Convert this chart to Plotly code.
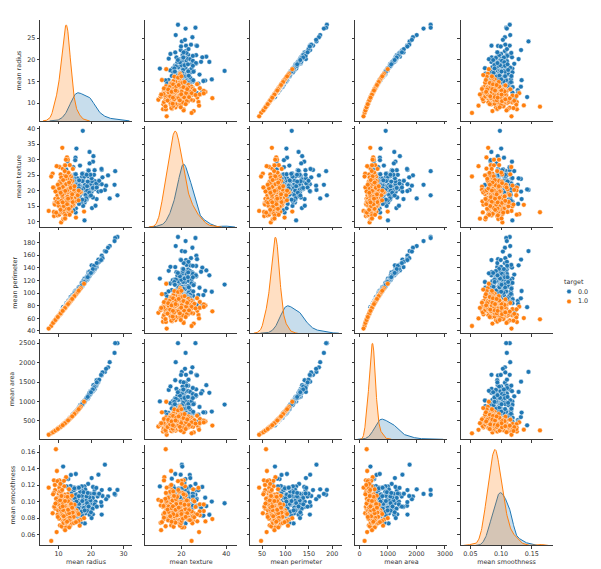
import numpy as np
import plotly.graph_objects as go

# ---------------- data ----------------
variables = ["mean radius", "mean texture", "mean perimeter", "mean area", "mean smoothness"]
legend_title = "target"
class_labels = ["0.0", "1.0"]

# class 0.0
radius_0 = [28.11, 27.42, 27.22, 25.73, 25.22, 24.25, 24.63, 23.29, 23.27, 22.27,
            23.21, 23.51, 22.01, 21.71, 21.16, 21.09, 20.73, 20.6, 20.57, 20.29,
            20.44, 20.09, 19.69, 19.81, 19.17, 19.59, 19.4, 19.1, 19.07, 19.55,
            18.94, 18.61, 18.25, 18.45, 18.05, 17.99, 18.08, 18.22, 17.6, 17.57,
            17.46, 17.42, 17.47, 17.2, 17.05, 17.14, 16.78, 16.74, 16.65, 16.5,
            16.3, 16.26, 16.13, 16.02, 16.16, 15.85, 15.78, 15.75, 15.61, 15.46,
            15.34, 15.28, 15.22, 15.1, 14.99, 14.86, 14.78, 14.68, 14.54, 14.48,
            14.6, 14.25, 14.25, 14.19, 13.8, 13.73, 13.71, 13.61, 13.44, 13.17,
            13.0, 12.46, 12.45, 11.42, 12.77, 13.4, 13.81, 12.34, 10.95, 15.13,
            14.95, 15.7, 18.31, 19.02, 19.53, 20.26, 20.18, 20.16, 21.61, 21.37,
            22.49, 21.1, 19.89, 18.66, 17.93, 17.68, 17.35, 16.6, 16.69, 16.84,
            15.49, 15.32, 14.71, 14.42, 13.96, 15.3, 16.46, 17.27, 18.81, 19.16,
            20.92, 20.47, 20.55, 14.87, 15.27, 16.07, 15.06, 16.24, 17.01, 18.49,
            19.79, 14.58, 18.03, 16.35, 16.27, 17.3, 21.75, 15.5, 23.09, 19.45,
            18.77, 19.27, 18.63, 19.97, 18.98]
texture_0 = [18.47, 26.27, 21.87, 17.46, 24.91, 20.2, 21.6, 26.67, 22.04, 19.67,
             26.97, 24.27, 21.9, 17.25, 23.04, 26.57, 31.12, 29.33, 17.77, 14.34,
             21.78, 23.86, 21.25, 22.15, 24.8, 25.0, 18.18, 26.29, 24.81, 28.77,
             21.31, 20.25, 19.98, 21.91, 16.15, 10.38, 21.84, 18.7, 23.33, 15.05,
             39.28, 25.56, 24.68, 24.52, 19.08, 16.4, 18.8, 21.59, 21.38, 18.29,
             15.7, 21.88, 20.68, 23.24, 21.54, 23.95, 17.89, 20.25, 19.38, 19.48,
             14.26, 22.41, 30.62, 22.02, 25.2, 23.21, 23.94, 20.13, 27.54, 21.46,
             23.29, 21.72, 22.15, 23.81, 15.79, 22.61, 20.83, 24.98, 21.58, 18.66,
             21.82, 24.04, 15.7, 20.38, 29.43, 20.52, 23.75, 26.86, 21.35, 29.81,
             18.77, 20.31, 18.58, 24.59, 32.47, 23.03, 23.97, 19.66, 22.28, 15.1,
             23.17, 20.52, 20.26, 17.12, 24.48, 20.74, 23.06, 28.08, 20.2, 19.46,
             19.97, 17.27, 21.59, 19.77, 17.05, 25.27, 20.11, 25.42, 19.98, 26.6,
             25.09, 20.67, 20.86, 16.67, 12.91, 19.65, 19.83, 18.77, 20.26, 17.52,
             25.12, 13.66, 16.85, 23.29, 20.71, 17.08, 20.99, 33.56, 19.83, 19.33,
             21.43, 26.47, 25.11, 18.42, 22.92]
perimeter_0 = [188.5, 186.9, 182.1, 174.2, 171.5, 166.2, 165.5, 158.9, 152.1, 152.8,
               153.5, 155.1, 147.2, 140.9, 137.2, 142.7, 135.7, 140.1, 132.9, 135.1,
               133.8, 134.7, 130.0, 130.0, 132.4, 127.7, 127.2, 129.1, 128.3, 133.6,
               123.6, 122.1, 119.6, 120.2, 120.2, 122.8, 117.4, 120.3, 119.0, 115.0,
               113.4, 114.5, 116.1, 114.2, 113.0, 116.0, 109.3, 110.1, 110.0, 106.6,
               104.7, 107.5, 108.1, 102.7, 106.2, 103.7, 103.6, 102.6, 100.0, 101.7,
               102.5, 98.92, 103.4, 97.26, 95.54, 100.4, 97.4, 94.74, 96.73, 94.25,
               93.97, 93.63, 96.42, 92.87, 90.43, 93.6, 90.2, 88.05, 86.18, 85.98,
               87.5, 83.97, 82.57, 77.58, 81.35, 88.64, 91.56, 81.15, 71.9, 96.71,
               97.84, 101.2, 118.6, 122.0, 128.0, 132.4, 143.7, 131.1, 144.4, 141.3,
               149.3, 138.1, 130.5, 121.4, 115.2, 117.4, 111.0, 108.3, 107.1, 108.4,
               102.4, 103.2, 95.55, 94.48, 91.43, 102.4, 109.3, 112.4, 120.9, 126.2,
               143.0, 134.7, 137.8, 98.64, 98.17, 104.1, 100.3, 108.8, 109.7, 121.3,
               130.4, 94.29, 117.5, 109.0, 106.9, 113.0, 147.3, 102.0, 152.1, 126.5,
               122.9, 127.9, 124.8, 131.7, 125.0]
area_0 = [2499, 2501, 2250, 2010, 1878, 1761, 1841, 1685, 1686, 1509,
          1670, 1747, 1482, 1546, 1404, 1311, 1419, 1265, 1326, 1297,
          1293, 1247, 1203, 1260, 1123, 1191, 1145, 1132, 1104, 1207,
          1130, 1094, 1040, 1075, 1006, 1001, 1024, 1033, 980.5, 955.1,
          920.6, 948, 984.6, 929.4, 895, 912.7, 886.3, 869.5, 904.6, 838.1,
          819.8, 826.8, 798.8, 797.8, 809.8, 782.7, 781, 761.3, 758.6, 748.9,
          704.4, 710.6, 716.9, 712.8, 698.8, 671.4, 668.3, 684.5, 658.8, 648.2,
          664.7, 633, 645.7, 610.7, 584.1, 578.3, 577.9, 582.7, 563, 534.6,
          519.8, 475.9, 477.1, 386.1, 507.9, 556.7, 597.8, 477.4, 371.1, 719.5,
          689.5, 766.6, 1041, 1076, 1223, 1264, 1245, 1274, 1407, 1386,
          1560, 1384, 1214, 1077, 998.9, 963.7, 933.1, 858.1, 857.6, 880.2,
          744.7, 713.3, 656.9, 642.5, 602.4, 732.4, 832.9, 928.8, 1102, 1138,
          1347, 1299, 1308, 682.5, 725.5, 817.7, 705.6, 805.1, 904.3, 1068,
          1192, 658.8, 990, 840.4, 813.7, 928.2, 1491, 740, 1682, 1152,
          1092, 1162, 1088, 1237, 1117]
smoothness_0 = [0.1142, 0.1084, 0.1094, 0.1149, 0.1063, 0.1447, 0.103, 0.1141, 0.0844, 0.1326,
                0.0951, 0.1069, 0.1063, 0.0938, 0.1094, 0.1141, 0.0947, 0.1178, 0.0847, 0.1003,
                0.0915, 0.108, 0.1096, 0.0983, 0.0974, 0.1032, 0.1037, 0.1215, 0.0908, 0.0926,
                0.0901, 0.0944, 0.0946, 0.0943, 0.1065, 0.1184, 0.0737, 0.1148, 0.0929, 0.0985,
                0.0981, 0.1006, 0.1049, 0.1071, 0.1141, 0.1186, 0.0887, 0.0961, 0.1121, 0.0969,
                0.0943, 0.1165, 0.117, 0.0821, 0.1008, 0.084, 0.0971, 0.1025, 0.0784, 0.1092,
                0.1073, 0.0906, 0.1048, 0.0906, 0.0939, 0.1044, 0.1172, 0.0987, 0.1139, 0.0944,
                0.0868, 0.0982, 0.1049, 0.0946, 0.1007, 0.1131, 0.1189, 0.0949, 0.0816, 0.1158,
                0.1273, 0.1186, 0.1278, 0.1425, 0.0828, 0.1106, 0.1323, 0.1034, 0.1227, 0.0832,
                0.0814, 0.096, 0.0859, 0.0903, 0.0842, 0.0908, 0.1286, 0.0802, 0.1167, 0.1001,
                0.1096, 0.0968, 0.1037, 0.1054, 0.0886, 0.1115, 0.0866, 0.0846, 0.075, 0.0745,
                0.116, 0.1335, 0.1137, 0.0975, 0.1096, 0.1082, 0.0983, 0.0833, 0.0892, 0.102,
                0.1099, 0.0916, 0.1046, 0.1162, 0.0818, 0.0917, 0.1039, 0.1066, 0.0877, 0.1012,
                0.1015, 0.0983, 0.0895, 0.0974, 0.1169, 0.1008, 0.094, 0.1002, 0.0995, 0.1053,
                0.0983, 0.0942, 0.1064, 0.0872, 0.1106]

# class 1.0
radius_1 = [13.54, 13.08, 9.504, 13.03, 8.196, 12.05, 13.49, 11.76, 13.64, 11.94,
            11.52, 13.05, 8.618, 10.17, 8.598, 9.029, 12.7, 11.8, 10.95, 11.41,
            14.26, 10.51, 8.726, 11.93, 8.95, 14.87, 12.89, 12.25, 10.29, 10.5,
            12.47, 11.32, 12.78, 9.738, 11.06, 11.89, 13.27, 14.95, 10.86, 11.13,
            12.87, 12.63, 12.18, 11.46, 12.91, 15.12, 11.34, 12.43, 13.0, 11.75,
            12.34, 10.65, 11.71, 11.87, 12.62, 9.777, 12.06, 14.64, 11.04, 13.86,
            12.6, 12.1, 12.32, 11.22, 13.59, 12.99, 14.02, 10.44, 13.21, 12.31,
            12.8, 11.6, 13.68, 12.0, 11.28, 16.84, 13.46, 12.85, 7.76, 6.98,
            9.2, 9.5, 13.94, 12.96, 11.67, 14.44, 12.04, 10.26, 13.77, 11.16,
            12.76, 11.43, 10.03, 9.667, 13.11, 15.53, 12.21, 13.88, 11.62, 10.8,
            12.39, 14.06, 13.4, 11.33, 10.57, 12.58, 17.85, 16.14, 14.97, 13.47,
            8.878, 9.423, 10.25, 12.46, 14.22, 11.25, 12.95, 13.43, 12.54, 11.51,
            10.6, 13.82, 12.67, 11.99, 9.876, 10.82, 13.2, 12.19, 14.4, 11.66,
            12.72, 13.15, 11.89, 10.91, 12.23, 13.66, 15.75, 9.397, 11.84, 14.5,
            12.86, 11.29, 13.28, 10.08, 12.49, 11.54, 8.571, 12.4, 13.62, 12.14,
            11.08, 14.29, 9.268, 13.35, 12.68, 11.74, 10.71, 16.5, 12.02, 13.9,
            11.47, 12.27, 14.76, 10.32, 13.0, 11.9, 12.56, 15.36, 10.97, 12.83,
            12.2, 11.05, 13.75, 10.4, 12.65, 11.58, 14.1, 9.9, 12.92, 11.35,
            13.3, 12.08, 10.76, 11.82, 12.52, 14.68, 9.61, 13.12, 11.97, 12.36,
            10.94, 12.74, 13.56, 11.46, 15.9, 12.15, 10.18, 13.0, 11.7, 12.45,
            8.34, 12.88, 11.22, 13.71, 10.6, 14.35, 12.3, 11.12, 13.42, 9.06,
            12.58, 11.9, 10.48, 13.17, 12.07, 14.9, 11.6, 12.77, 10.9, 16.2,
            11.41, 13.84, 12.63, 10.66, 12.0, 13.25, 11.28, 9.78, 12.94, 14.2]
texture_1 = [14.36, 15.71, 12.44, 18.42, 25.5, 14.63, 22.3, 21.6, 16.34, 18.24,
             18.75, 19.31, 11.79, 14.88, 20.98, 17.33, 12.17, 16.58, 13.3, 10.82,
             18.17, 20.19, 15.83, 21.53, 15.76, 16.67, 13.12, 17.94, 27.61, 18.86,
             18.6, 27.08, 16.49, 11.97, 14.96, 17.36, 14.76, 17.57, 21.48, 16.62,
             16.21, 20.76, 17.84, 18.16, 16.33, 16.39, 21.26, 17.0, 25.13, 17.56,
             14.74, 25.22, 15.7, 21.54, 17.15, 16.99, 18.9, 15.24, 14.93, 16.93,
             30.72, 17.72, 12.39, 19.86, 17.84, 14.23, 15.66, 15.46, 25.25, 16.52,
             22.33, 12.84, 16.33, 28.23, 13.39, 19.46, 28.21, 29.97, 24.54, 13.43,
             13.0, 15.4, 13.17, 18.29, 20.02, 15.18, 28.14, 12.22, 22.29, 33.81,
             18.84, 17.31, 21.28, 18.49, 22.54, 19.04, 18.02, 16.16, 23.21, 9.71,
             21.94, 17.18, 16.95, 14.16, 20.22, 18.4, 13.23, 16.85, 19.35, 14.06,
             15.49, 27.88, 16.18, 12.83, 23.12, 14.78, 16.02, 19.63, 18.07, 23.06,
             18.95, 24.49, 18.32, 24.89, 17.27, 24.21, 17.43, 13.29, 26.99, 17.07,
             13.78, 15.34, 21.8, 12.96, 19.56, 19.13, 19.22, 16.39, 18.7, 15.7,
             13.32, 13.04, 20.28, 15.11, 16.85, 10.72, 13.1, 17.68, 23.23, 16.94,
             20.54, 16.82, 12.87, 25.11, 23.84, 14.02, 20.39, 19.4, 10.94, 19.24,
             16.03, 29.97, 19.83, 16.35, 25.71, 18.79, 19.07, 11.29, 21.82, 13.98,
             17.0, 19.5, 14.8, 22.9, 20.1, 13.6, 18.3, 16.1, 15.2, 21.2,
             16.6, 23.8, 18.9, 12.5, 14.3, 20.4, 19.8, 17.6, 15.9, 22.1,
             14.4, 18.1, 21.7, 16.9, 18.5, 12.0, 20.7, 25.8, 19.1, 17.3,
             21.0, 15.5, 17.9, 20.9, 13.8, 16.3, 24.6, 18.6, 12.2, 19.7,
             16.4, 26.3, 22.4, 14.1, 19.9, 21.4, 15.0, 18.0, 16.7, 20.0,
             23.4, 17.7, 15.6, 19.3, 11.0, 22.6, 16.2, 21.9, 17.4, 18.8]
perimeter_1 = [87.46, 85.63, 60.34, 82.61, 51.7, 76.7, 86.0, 74.7, 87.2, 76.0,
               73.3, 83.2, 54.6, 64.6, 54.1, 57.2, 81.0, 75.1, 69.6, 72.6,
               91.0, 66.8, 55.3, 76.0, 56.7, 95.0, 82.1, 78.0, 65.4, 66.7,
               79.4, 72.0, 81.4, 61.8, 70.3, 75.7, 84.6, 95.4, 69.0, 70.8,
               82.0, 80.5, 77.6, 72.9, 82.3, 96.5, 72.1, 79.2, 82.9, 74.8,
               78.6, 67.7, 74.5, 75.6, 80.4, 62.1, 76.8, 93.4, 70.2, 88.4,
               80.3, 77.0, 78.5, 71.4, 86.7, 82.8, 89.4, 66.3, 84.2, 78.4,
               81.6, 73.8, 87.2, 76.4, 71.8, 107.6, 85.8, 81.9, 47.92, 43.79,
               58.5, 60.4, 88.9, 82.6, 74.3, 92.1, 76.7, 65.2, 87.8, 71.0,
               81.3, 72.7, 63.7, 61.4, 83.6, 99.2, 77.8, 88.5, 74.0, 68.7,
               78.9, 89.7, 85.4, 72.1, 67.2, 80.1, 114.6, 103.1, 95.6, 85.9,
               56.3, 59.8, 65.1, 79.4, 90.7, 71.6, 82.5, 85.6, 79.9, 73.2,
               67.4, 88.1, 80.7, 76.3, 62.7, 68.8, 84.1, 77.6, 91.9, 74.2,
               81.0, 83.8, 75.7, 69.4, 77.9, 87.1, 100.6, 59.6, 75.4, 92.5,
               81.9, 71.8, 84.7, 64.0, 79.6, 73.4, 54.3, 79.0, 86.8, 77.3,
               70.5, 91.2, 58.8, 85.1, 80.8, 74.7, 68.1, 105.4, 76.5, 88.7,
               73.0, 78.1, 94.2, 65.6, 82.9, 75.8, 80.0, 98.1, 69.8, 81.8,
               77.7, 70.3, 87.7, 66.1, 80.6, 73.7, 89.9, 62.9, 82.3, 72.2,
               84.8, 76.9, 68.4, 75.2, 79.8, 93.7, 61.0, 83.6, 76.2, 78.7,
               69.6, 81.2, 86.5, 72.9, 101.6, 77.4, 64.7, 82.9, 74.5, 79.3,
               52.8, 82.1, 71.4, 87.4, 67.4, 91.6, 78.3, 70.7, 85.6, 57.4,
               80.1, 75.8, 66.6, 83.9, 76.9, 95.1, 73.8, 81.4, 69.3, 103.5,
               72.6, 88.3, 80.5, 67.8, 76.4, 84.5, 71.8, 62.1, 82.5, 90.6]
area_1 = [566.3, 520.0, 273.9, 523.8, 201.9, 442.9, 555.0, 421.8, 567.5, 434.8,
          404.8, 519.4, 226.5, 315.5, 225.5, 248.6, 491.9, 424.7, 365.7, 397.1,
          620.2, 336.9, 232.2, 434.1, 244.3, 674.4, 506.8, 457.7, 323.0, 336.3,
          474.3, 390.8, 498.2, 289.2, 373.1, 431.2, 537.1, 681.7, 359.7, 377.8,
          505.2, 486.5, 452.5, 400.6, 508.3, 697.3, 392.2, 471.2, 515.5, 421.1,
          464.4, 345.9, 418.2, 429.7, 485.8, 291.6, 443.6, 653.7, 371.7, 585.9,
          484.2, 446.5, 462.9, 384.0, 563.3, 514.6, 599.5, 332.4, 532.2, 462.2,
          499.7, 410.4, 570.8, 439.2, 388.1, 865.0, 552.6, 503.6, 181.0, 143.5,
          254.0, 272.5, 592.7, 512.3, 415.4, 636.0, 442.1, 321.1, 578.3, 379.9,
          496.6, 398.5, 306.8, 285.0, 524.2, 735.6, 454.7, 587.6, 411.8, 355.8,
          468.2, 602.9, 547.7, 391.5, 340.8, 482.7, 992.1, 794.5, 683.5, 553.4,
          240.4, 270.8, 320.4, 473.5, 616.7, 386.0, 511.5, 550.1, 479.6, 404.1,
          342.7, 582.5, 489.6, 438.5, 297.5, 357.1, 531.4, 453.2, 632.4, 414.7,
          493.5, 527.4, 431.2, 363.0, 456.2, 569.1, 756.6, 269.3, 427.6, 641.3,
          504.4, 388.8, 537.9, 309.9, 475.8, 406.2, 224.1, 469.0, 565.8, 449.5,
          374.4, 622.8, 262.0, 543.6, 490.4, 420.4, 349.8, 830.4, 440.7, 589.3,
          401.3, 459.2, 664.5, 324.8, 515.5, 431.9, 481.2, 719.6, 367.0, 502.1,
          454.0, 372.4, 576.6, 329.9, 488.1, 409.0, 606.4, 298.9, 509.1, 392.9,
          539.5, 445.1, 353.1, 426.1, 478.1, 657.3, 281.7, 525.0, 437.0, 466.0,
          365.0, 495.0, 560.8, 400.6, 771.1, 450.2, 316.1, 515.5, 417.5, 472.8,
          209.0, 506.0, 384.0, 573.3, 342.7, 628.1, 461.4, 377.2, 549.3, 250.4,
          482.7, 431.9, 335.0, 529.0, 444.3, 677.1, 410.4, 497.4, 362.4, 800.4,
          397.1, 584.2, 486.5, 346.6, 439.2, 535.5, 388.1, 291.7, 510.7, 615.0]
smoothness_1 = [0.0978, 0.1075, 0.1024, 0.0898, 0.0860, 0.1031, 0.0875, 0.1186, 0.0712, 0.0822,
                0.0924, 0.0995, 0.0937, 0.1183, 0.1258, 0.0916, 0.0787, 0.0812, 0.1099, 0.0955,
                0.0889, 0.0845, 0.0940, 0.1001, 0.1140, 0.0765, 0.0830, 0.0941, 0.1167, 0.0978,
                0.0872, 0.0763, 0.1090, 0.0846, 0.0981, 0.0854, 0.1039, 0.0777, 0.1057, 0.0903,
                0.0922, 0.0855, 0.0885, 0.0932, 0.0997, 0.0771, 0.0690, 0.1036, 0.0779, 0.0871,
                0.1014, 0.1018, 0.0729, 0.0919, 0.1053, 0.0967, 0.0740, 0.0803, 0.1119, 0.0866,
                0.0762, 0.0851, 0.1296, 0.0943, 0.0913, 0.1055, 0.0878, 0.0713, 0.1150, 0.0697,
                0.0828, 0.0974, 0.0990, 0.0968, 0.0807, 0.0784, 0.0835, 0.0886, 0.0526, 0.1170,
                0.1634, 0.1371, 0.0921, 0.0946, 0.1252, 0.0805, 0.0883, 0.1257, 0.0968, 0.0790,
                0.0845, 0.0910, 0.1097, 0.1248, 0.0797, 0.0895, 0.0999, 0.0852, 0.0936, 0.1022,
                0.0879, 0.0744, 0.0937, 0.1046, 0.1215, 0.0872, 0.0801, 0.0766, 0.0875, 0.0985,
                0.1202, 0.0633, 0.0951, 0.0877, 0.0964, 0.0933, 0.1050, 0.0900, 0.0834, 0.0809,
                0.0955, 0.0788, 0.0926, 0.0739, 0.1049, 0.0858, 0.0906, 0.1008, 0.0847, 0.0900,
                0.0788, 0.0918, 0.1086, 0.0703, 0.0933, 0.0837, 0.0844, 0.1044, 0.0946, 0.0898,
                0.0911, 0.0954, 0.0689, 0.0969, 0.1004, 0.0744, 0.1106, 0.0957, 0.0781, 0.1062,
                0.0867, 0.0914, 0.1035, 0.0822, 0.0875, 0.0795, 0.1107, 0.0710, 0.0656, 0.0954,
                0.1014, 0.0966, 0.0741, 0.1124, 0.0812, 0.0839, 0.0897, 0.0753, 0.1078, 0.0952,
                0.0953, 0.0881, 0.0832, 0.1012, 0.0768, 0.0927, 0.1071, 0.0894, 0.0843, 0.0985,
                0.0905, 0.0776, 0.1123, 0.0865, 0.0941, 0.0817, 0.0996, 0.1031, 0.0858, 0.0912,
                0.0876, 0.1058, 0.0911, 0.0823, 0.0862, 0.0948, 0.0795, 0.1003, 0.0893, 0.0748,
                0.1089, 0.0920, 0.0835, 0.0959, 0.0904, 0.0869, 0.0882, 0.1142, 0.0807, 0.0977,
                0.0849, 0.0937, 0.1016, 0.0773, 0.0891, 0.0963, 0.0824, 0.0906, 0.1069, 0.0851,
                0.0898, 0.0972, 0.0758, 0.0931, 0.1008, 0.0861, 0.0944, 0.0816, 0.0902, 0.0928]

# tick labels
x_tickvals = [[10, 20, 30], [20, 40], [50, 100, 150, 200], [0, 1000, 2000, 3000], [0.05, 0.10, 0.15]]
x_ticktext = [["10", "20", "30"], ["20", "40"], ["50", "100", "150", "200"],
              ["0", "1000", "2000", "3000"], ["0.05", "0.10", "0.15"]]
y_tickvals = [[10, 15, 20, 25], [10, 15, 20, 25, 30, 35, 40], [40, 60, 80, 100, 120, 140, 160, 180],
              [500, 1000, 1500, 2000, 2500], [0.06, 0.08, 0.10, 0.12, 0.14, 0.16]]
y_ticktext = [["10", "15", "20", "25"], ["10", "15", "20", "25", "30", "35", "40"],
              ["40", "60", "80", "100", "120", "140", "160", "180"],
              ["500", "1000", "1500", "2000", "2500"], ["0.06", "0.08", "0.10", "0.12", "0.14", "0.16"]]

# ---------------- styling / layout ----------------
W, H = 601, 569
x_ranges = [[4.3, 32.6], [3.8, 44.9], [24.8, 221.5], [-142, 3090], [0.034, 0.184]]
y_ranges = [[5.92, 29.17], [8.23, 40.76], [36.55, 195.7], [25.6, 2619], [0.0471, 0.1689]]
COL_LEFT, COL_PITCH, COL_W = 32.3, 106.2, 93.0
ROW_TOP, ROW_PITCH, ROW_H = 11.2, 106.7, 101.3
colors = ["#1f77b4", "#ff7f0e"]
fills = ["rgba(31,119,180,0.25)", "rgba(255,127,14,0.25)"]
FONT = "DejaVu Sans"
FS = 6.4
TXT = "#333333"

data = {0: [radius_0, texture_0, perimeter_0, area_0, smoothness_0],
        1: [radius_1, texture_1, perimeter_1, area_1, smoothness_1]}
N_total = len(radius_0) + len(radius_1)


def kde_curve(values, total):
    """Gaussian KDE (Scott bandwidth, cut=3), scaled by the class share (common_norm)."""
    v = np.asarray(values, dtype=float)
    n = len(v)
    bw = v.std(ddof=1) * n ** (-1.0 / 5.0)
    grid = np.linspace(v.min() - 3 * bw, v.max() + 3 * bw, 200)
    dens = np.exp(-0.5 * ((grid[:, None] - v[None, :]) / bw) ** 2).sum(axis=1)
    dens = dens / (n * bw * np.sqrt(2 * np.pi))
    return grid, dens * n / total


fig = go.Figure()
layout = {}
axis_common = dict(showgrid=False, zeroline=False, showline=True, linecolor="#3a3a3a", linewidth=0.7,
                   ticks="outside", ticklen=2.5, tickwidth=0.6, tickcolor="#3a3a3a",
                   tickfont=dict(family=FONT, size=FS, color=TXT))

for i in range(5):
    for j in range(5):
        k = i * 5 + j + 1
        xa = "x" if k == 1 else f"x{k}"
        ya = "y" if k == 1 else f"y{k}"
        xl = (COL_LEFT + COL_PITCH * j) / W
        xr = (COL_LEFT + COL_PITCH * j + COL_W) / W
        yt = 1 - (ROW_TOP + ROW_PITCH * i) / H
        yb = 1 - (ROW_TOP + ROW_PITCH * i + ROW_H) / H
        if i == j:
            # diagonal: density curves, mapped onto the panel height (density 0 at the bottom)
            curves = [kde_curve(data[c][j], N_total) for c in (0, 1)]
            top = max(d.max() for _, d in curves) * 1.05
            y0, y1 = y_ranges[i]
            for c, (g, d) in enumerate(curves):
                base = np.full_like(g, y0)
                fig.add_trace(go.Scatter(x=g, y=base, xaxis=xa, yaxis=ya, mode="lines",
                                         line=dict(width=0, color=colors[c]), showlegend=False,
                                         hoverinfo="skip"))
                fig.add_trace(go.Scatter(x=g, y=y0 + d / top * (y1 - y0), xaxis=xa, yaxis=ya,
                                         mode="lines", line=dict(color=colors[c], width=1),
                                         fill="tonexty", fillcolor=fills[c], showlegend=False,
                                         hoverinfo="skip"))
        else:
            for c in (0, 1):
                fig.add_trace(go.Scatter(x=data[c][j], y=data[c][i], xaxis=xa, yaxis=ya, mode="markers",
                                         marker=dict(color=colors[c], size=4.8,
                                                     line=dict(color="white", width=0.45)),
                                         name=class_labels[c], showlegend=False))
        xname = "xaxis" if k == 1 else f"xaxis{k}"
        yname = "yaxis" if k == 1 else f"yaxis{k}"
        layout[xname] = dict(domain=[xl, xr], anchor=ya, range=x_ranges[j],
                             tickvals=x_tickvals[j], ticktext=x_ticktext[j], showticklabels=(i == 4),
                             title=dict(text=variables[j] if i == 4 else "",
                                        font=dict(family=FONT, size=FS, color=TXT), standoff=2),
                             **axis_common)
        layout[yname] = dict(domain=[yb, yt], anchor=xa, range=y_ranges[i],
                             tickvals=y_tickvals[i], ticktext=y_ticktext[i], showticklabels=(j == 0),
                             title=dict(text=variables[i] if j == 0 else "",
                                        font=dict(family=FONT, size=FS, color=TXT), standoff=4),
                             **axis_common)

# legend (drawn to match seaborn's compact legend)
annotations = [dict(text=legend_title, x=572 / W, y=1 - 274 / H, xref="paper", yref="paper",
                    showarrow=False, xanchor="center", yanchor="middle",
                    font=dict(family=FONT, size=FS, color=TXT))]
shapes = []
for c, yy in zip((0, 1), (284, 294)):
    annotations.append(dict(text=class_labels[c], x=574 / W, y=1 - yy / H, xref="paper", yref="paper",
                            showarrow=False, xanchor="left", yanchor="middle",
                            font=dict(family=FONT, size=FS, color=TXT)))
    shapes.append(dict(type="circle", xref="paper", yref="paper",
                       x0=(566.7 - 2.3) / W, x1=(566.7 + 2.3) / W,
                       y0=1 - (yy + 2.3) / H, y1=1 - (yy - 2.3) / H,
                       fillcolor=colors[c], line=dict(color="white", width=0.4)))

fig.update_layout(width=W, height=H, margin=dict(l=0, r=0, t=0, b=0),
                  plot_bgcolor="white", paper_bgcolor="white", showlegend=False,
                  font=dict(family=FONT, size=FS, color=TXT),
                  annotations=annotations, shapes=shapes, **layout)

fig.write_html("out.html")
